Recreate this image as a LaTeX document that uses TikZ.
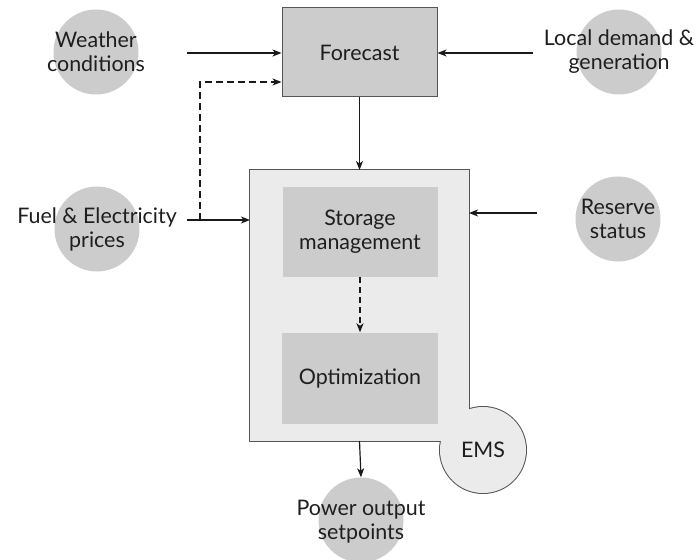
\documentclass[tikz,border=0pt]{standalone}
\usepackage{fontspec}
\setmainfont{Lato}
\usetikzlibrary{arrows.meta}
\definecolor{srcgray}{HTML}{CCCCCC}
\definecolor{boxgray}{HTML}{CCCCCC}
\definecolor{emsfill}{HTML}{EBEBEB}
\definecolor{edgec}{HTML}{555555}
\definecolor{linec}{HTML}{1A1A1A}
\definecolor{txt}{HTML}{1E1E1E}
\begin{document}
\begin{tikzpicture}[x=1bp,y=-1bp,
  font=\fontsize{21.5}{24}\selectfont,
  src/.style={circle, fill=srcgray, minimum size=85bp, inner sep=0pt},
  lbl/.style={align=center, text=txt, inner sep=0pt},
  stage/.style={fill=boxgray, minimum width=155bp, minimum height=90bp, inner sep=0pt, align=center, text=txt},
  arr/.style={-{Stealth[length=9bp,width=7bp,inset=2.5bp]}, line width=1.2bp, draw=linec},
  dashline/.style={dash pattern=on 7bp off 4bp}]
\useasboundingbox (0,0) rectangle (699,560);

% input sources
\node[src] (wc) at (96,52) {};
\node[lbl] at (wc) {Weather\\conditions};
\node[src] (ld) at (619,52) {};
\node[lbl] at (ld) {Local demand \&\\generation};
\node[src] (fe) at (97,229) {};
\node[lbl] at (fe) {Fuel \& Electricity\\prices};
\node[src] (rs) at (618,219) {};
\node[lbl] at (rs) {Reserve\\status};
\node[src] (po) at (361,520) {};
\node[lbl] at (361,522) {Power output\\setpoints};

% forecast block
\node[stage, draw=edgec, line width=1bp, minimum width=155bp, minimum height=89bp] (fc) at (359.5,52.5) {Forecast};

% EMS container: rectangle merged with a circle at its lower right corner
\node[fill=emsfill, draw=edgec, line width=2bp, outer sep=0pt, minimum width=219bp, minimum height=271bp, inner sep=0pt] (ems) at (359.5,305.5) {};
\node[circle, fill=emsfill, draw=edgec, line width=2bp, outer sep=0pt, minimum size=86bp, inner sep=0pt] (emsc) at (483,450) {};
\fill[emsfill] (ems.north west) rectangle (ems.south east);
\fill[emsfill] (emsc.center) circle (43);
\node[lbl] at (emsc) {EMS};

\node[stage] (st) at (360,232) {Storage\\management};
\node[stage, minimum width=156bp, minimum height=91bp] (opt) at (360,378) {Optimization};

% connectors
\coordinate (w1) at (187,53);
\draw[arr] (w1) -- (w1 -| fc.west);
\coordinate (l1) at (533,53);
\draw[arr] (l1) -- (l1 -| fc.east);
\coordinate (f1) at (187,220);
\draw[arr] (f1) -- (f1 -| ems.west);
\coordinate (d0) at (200,220);
\coordinate (d1) at (200,82);
\draw[arr, dashline] (d0) -- (d1) -- (d1 -| fc.west);
\coordinate (r1) at (537,213);
\draw[arr] (r1) -- (r1 -| ems.east);
\draw[arr] (fc.south) -- (ems.north);
\draw[arr, dash pattern=on 6bp off 4bp] (st.south) -- (opt.north);
\draw[arr] (ems.south) -- (po.north);
\end{tikzpicture}
\end{document}
